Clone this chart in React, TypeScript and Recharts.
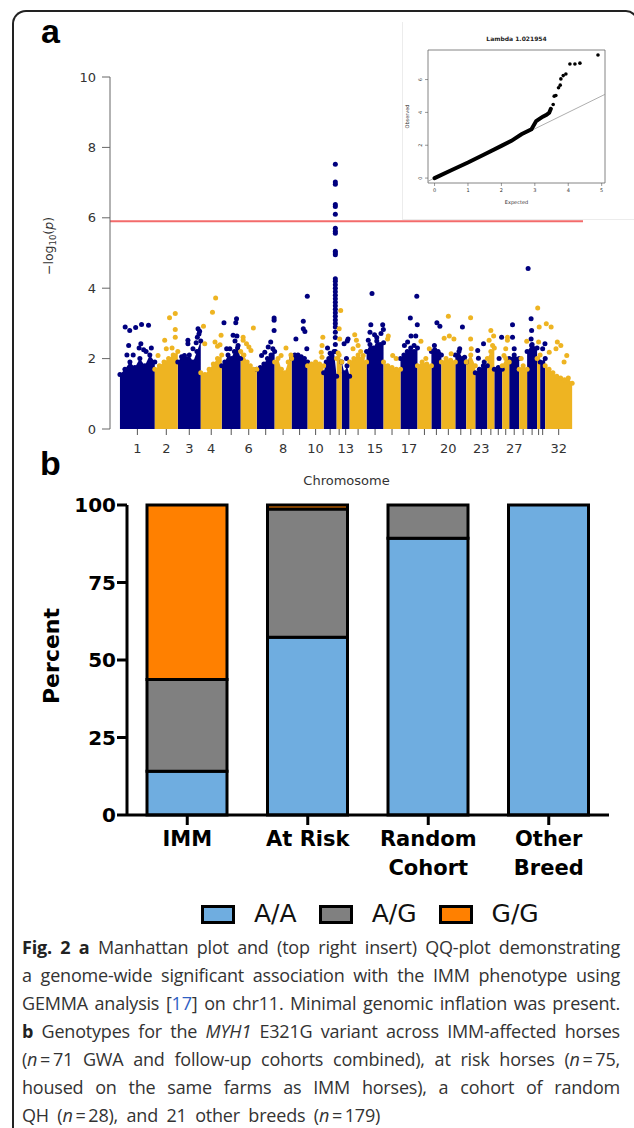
import React from 'react';
import {
  ComposedChart,
  Area,
  Scatter,
  Line,
  XAxis,
  YAxis,
  ReferenceLine,
  ReferenceArea,
  BarChart,
  Bar,
} from 'recharts';

// ---------- panel a: Manhattan plot ----------
const CHROMOSOMES = [
  '1', '2', '3', '4', '5', '6', '7', '8', '9', '10', '11', '12', '13', '14', '15', '16',
  '17', '18', '19', '20', '21', '22', '23', '24', '25', '26', '27', '28', '29', '30', '31', '32',
];
const CHROM_LENGTH_MB = [
  185, 122, 122, 111, 101, 85, 95, 90, 85, 85, 69, 27, 42, 90, 90, 90,
  90, 74, 53, 74, 58, 48, 64, 37, 42, 37, 53, 42, 53, 16, 27, 143,
];
const LABELED_CHROMOSOMES = ['1', '2', '3', '4', '6', '8', '10', '13', '15', '17', '20', '23', '27', '32'];

// top of the dense cloud, sampled evenly along each chromosome
const ENVELOPE = [
  [1.55, 1.7, 1.9, 1.75, 2.0, 1.8, 2.1, 1.9],
  [1.7, 1.8, 1.9, 2.0, 2.1, 2.2],
  [1.9, 2.05, 2.0, 2.1, 1.9, 2.2, 2.5],
  [1.6, 1.55, 1.7, 1.85, 2.0, 2.1],
  [1.8, 1.9, 2.1, 2.0, 2.2, 2.3, 2.0],
  [2.2, 2.1, 1.9, 1.8, 1.7, 1.7],
  [1.7, 1.75, 1.85, 2.0, 2.1, 2.2],
  [1.9, 2.0, 1.7, 1.6, 1.9, 2.0],
  [2.0, 2.1, 2.1, 2.05, 2.0, 1.9],
  [1.8, 1.85, 1.9, 1.85, 1.8],
  [1.6, 1.9, 2.0, 2.1, 2.2, 1.5],
  [2.0, 2.1, 1.9],
  [1.9, 1.6, 1.8, 1.5],
  [1.9, 2.0, 2.1, 2.0, 1.9],
  [2.2, 2.4, 2.3, 2.5, 2.4, 2.45],
  [1.9, 1.8, 1.75, 1.7, 1.7],
  [2.0, 2.1, 2.2, 2.3, 2.2, 2.3],
  [1.8, 1.9, 1.85, 1.8],
  [2.2, 2.25, 2.2, 2.1],
  [1.9, 2.0, 1.95, 1.9],
  [2.1, 2.2, 2.0, 1.9],
  [1.9, 2.1, 1.8],
  [1.6, 1.7, 1.8, 1.8],
  [2.0, 2.2, 2.3],
  [1.7, 1.75, 1.7],
  [1.8, 2.0, 1.9],
  [2.0, 2.1, 2.0],
  [1.7, 1.8, 1.7],
  [2.2, 2.4, 2.3],
  [2.0, 2.1],
  [1.9, 2.0],
  [1.8, 1.7, 1.6, 1.5, 1.45, 1.4, 1.45, 1.3],
];

// individual SNPs above the cloud: [fraction along chromosome, -log10(p)]
const HITS: number[][][] = [
  [[0.15, 2.9], [0.28, 2.8], [0.45, 2.88], [0.62, 2.97], [0.82, 2.95], [0.25, 2.37], [0.38, 2.1], [0.6, 2.42], [0.68, 2.25], [0.9, 2.3], [0.2, 2.1], [0.75, 2.2], [0.55, 2.3]],
  [[0.64, 3.16], [0.89, 3.28], [0.89, 2.83], [0.89, 2.61], [0.43, 2.52], [0.5, 2.28], [0.14, 2.09], [0.75, 2.3]],
  [[0.44, 2.52], [0.44, 2.42], [0.66, 2.28], [0.29, 2.09], [0.88, 2.85], [0.95, 2.78], [0.85, 2.61], [0.92, 2.7], [0.8, 2.45]],
  [[0.71, 3.72], [0.56, 3.32], [0.13, 2.92], [0.97, 2.66], [0.68, 2.47], [0.92, 2.39], [0.19, 2.42], [0.8, 2.35]],
  [[0.12, 3.02], [0.78, 3.13], [0.74, 3.02], [0.6, 2.66], [0.8, 2.64], [0.86, 2.37], [0.26, 2.28], [0.43, 2.28], [0.7, 2.5]],
  [[0.79, 2.87], [0.15, 2.61], [0.15, 2.52], [0.51, 2.33], [0.64, 2.23], [0.36, 2.42]],
  [[0.97, 3.15], [0.97, 3.09], [0.97, 2.8], [0.78, 2.47], [0.64, 2.33], [0.9, 2.28], [0.45, 2.18], [0.27, 2.09]],
  [[0.67, 2.3], [0.38, 2.09], [0.96, 2.1]],
  [[0.73, 3.06], [0.73, 2.85], [0.83, 2.77], [0.27, 2.56], [0.98, 3.77], [0.95, 2.28]],
  [[0.95, 2.61], [0.9, 2.37], [0.85, 2.18], [0.9, 2.04]],
  [[0.3, 2.3], [0.5, 2.15], [0.9, 2.2], [0.9, 2.4], [0.9, 2.6], [0.9, 2.75], [0.9, 2.9], [0.9, 3.0], [0.9, 3.1], [0.9, 3.2], [0.9, 3.3], [0.9, 3.4], [0.9, 3.5], [0.9, 3.6], [0.9, 3.7], [0.9, 3.8], [0.9, 3.9], [0.9, 4.0], [0.9, 4.1], [0.9, 4.2], [0.9, 4.27], [0.9, 4.95], [0.9, 5.0], [0.9, 5.05], [0.9, 5.56], [0.9, 5.62], [0.9, 5.7], [0.9, 6.1], [0.9, 6.32], [0.9, 6.38], [0.9, 6.95], [0.9, 7.02], [0.9, 7.52]],
  [[0.8, 3.37], [0.5, 2.85], [0.6, 2.56], [0.3, 2.16]],
  [[0.8, 2.56], [0.3, 2.42], [0.6, 2.0], [0.7, 2.5]],
  [[0.3, 2.68], [0.5, 2.37], [0.8, 2.09], [0.2, 2.28], [0.4, 2.52], [0.65, 2.2]],
  [[0.32, 3.85], [0.25, 2.96], [0.95, 2.96], [0.99, 2.83], [0.47, 2.68], [0.1, 2.52], [0.85, 2.71], [0.6, 2.6], [0.2, 2.75]],
  [[0.24, 2.56], [0.28, 2.64], [0.54, 2.09], [0.74, 2.0]],
  [[0.58, 3.15], [0.96, 3.77], [0.99, 2.96], [0.9, 2.64], [0.62, 2.64], [0.23, 2.37], [0.42, 2.47], [0.8, 2.37]],
  [[0.25, 2.49], [0.85, 2.28], [0.6, 2.0]],
  [[0.55, 3.02], [0.85, 2.92], [0.3, 2.37], [0.75, 2.14]],
  [[0.5, 3.2], [0.2, 2.58], [0.57, 2.64], [0.9, 2.56], [0.7, 2.14]],
  [[0.65, 2.9], [0.4, 2.28], [0.85, 2.04]],
  [[0.48, 3.16], [0.48, 2.56], [0.55, 2.28]],
  [[0.68, 2.42], [0.2, 2.23], [0.26, 2.01], [0.74, 1.9]],
  [[0.5, 2.8], [0.9, 2.64], [0.25, 2.52], [0.75, 2.37]],
  [[0.92, 2.61], [0.6, 2.0]],
  [[0.75, 2.61], [0.75, 2.52], [0.5, 2.28], [0.25, 2.09]],
  [[0.33, 2.96], [0.33, 2.61], [0.5, 2.28]],
  [[0.95, 2.49], [0.25, 2.0]],
  [[0.1, 4.56], [0.4, 3.13], [0.45, 2.8], [0.4, 2.56], [0.45, 2.37], [0.5, 2.25]],
  [[0.2, 3.44], [0.7, 2.9], [0.5, 2.47]],
  [[0.95, 2.42], [0.5, 2.28]],
  [[0.04, 2.99], [0.22, 2.9], [0.45, 2.47], [0.58, 2.37], [0.7, 1.9], [0.8, 2.09], [0.4, 2.28], [0.15, 2.18]],
];
const SIGNIFICANCE = 5.9;

// ---------- QQ inset ----------
const QQ_LAMBDA = '1.021954';
const QQ_CURVE_EXPECTED = [0, 0.5, 1.0, 1.5, 2.0, 2.3, 2.6, 2.9, 3.04, 3.15, 3.24, 3.35, 3.43, 3.48];
const QQ_CURVE_OBSERVED = [0, 0.48, 0.95, 1.45, 1.96, 2.27, 2.67, 2.97, 3.47, 3.62, 3.74, 3.85, 3.98, 4.22];
const QQ_TOP_EXPECTED = [3.55, 3.58, 3.63, 3.71, 3.76, 3.78, 3.85, 3.93, 4.05, 4.2, 4.35, 4.89];
const QQ_TOP_OBSERVED = [4.48, 4.99, 5.03, 5.5, 5.66, 6.04, 6.24, 6.34, 6.95, 6.95, 7.0, 7.5];
const QQ_X_DOMAIN: [number, number] = [-0.196, 5.1];
const QQ_Y_DOMAIN: [number, number] = [-0.3, 7.8];

// ---------- panel b: genotype frequencies ----------
const GROUPS = ['IMM', 'At Risk', 'Random\nCohort', 'Other\nBreed'];
const GENOTYPES = ['A/A', 'A/G', 'G/G'];
const PCT_AA = [14.1, 57.3, 89.3, 100];
const PCT_AG = [29.6, 41.4, 10.7, 0];
const PCT_GG = [56.3, 1.3, 0, 0];
const GENOTYPE_COLORS = ['#6FADE0', '#808080', '#FF8000'];

const BLUE = '#00007F';
const GOLD = '#EEB422';

const starts: number[] = [];
let total = 0;
CHROM_LENGTH_MB.forEach((len) => {
  starts.push(total);
  total += len;
});
const centers = CHROM_LENGTH_MB.map((len, i) => starts[i] + len / 2);

const areaRows: any[] = [];
const blueDots: { x: number; y: number }[] = [];
const goldDots: { x: number; y: number }[] = [];
ENVELOPE.forEach((env, i) => {
  const key = i % 2 === 0 ? 'blue' : 'gold';
  const dots = i % 2 === 0 ? blueDots : goldDots;
  env.forEach((v, k) => {
    const x = starts[i] + (CHROM_LENGTH_MB[i] * k) / (env.length - 1);
    areaRows.push({ x, [key]: v });
    dots.push({ x, y: v });
  });
  HITS[i].forEach(([f, v]) => dots.push({ x: starts[i] + CHROM_LENGTH_MB[i] * f, y: v }));
});

const qqCurve = QQ_CURVE_EXPECTED.map((x, i) => ({ x, y: QQ_CURVE_OBSERVED[i] }));
const qqTop = QQ_TOP_EXPECTED.map((x, i) => ({ x, y: QQ_TOP_OBSERVED[i] }));

const barData = GROUPS.map((g, i) => ({ group: g, AA: PCT_AA[i], AG: PCT_AG[i], GG: PCT_GG[i] }));
const GENO_KEYS = ['AA', 'AG', 'GG'];

const dot = (color: string, r: number) => (p: any) => <circle cx={p.cx} cy={p.cy} r={r} fill={color} />;

const LogPLabel = (props: any) => {
  const vb = props.viewBox;
  const cy = vb ? vb.y + vb.height / 2 - 7 : 246;
  return (
    <text transform={`translate(53,${cy}) rotate(-90)`} textAnchor="middle" fontFamily="DejaVu Sans" fontSize={12.5} fill="#333">
      <tspan>−log</tspan>
      <tspan fontSize={8.5} dy={3}>10</tspan>
      <tspan dy={-3}>(</tspan>
      <tspan fontStyle="italic">p</tspan>
      <tspan>)</tspan>
    </text>
  );
};

const ChromLabel = (props: any) => {
  const vb = props.viewBox;
  const cx = vb ? vb.x + vb.width / 2 : 346;
  const y = vb ? vb.y + 56 : 485;
  return (
    <text x={cx} y={y} textAnchor="middle" fontFamily="DejaVu Sans" fontSize={13} fill="#333">
      Chromosome
    </text>
  );
};

function ManhattanPlot() {
  return (
    <div style={{ position: 'absolute', left: 0, top: 0 }}>
      <ComposedChart width={634} height={496} data={areaRows} margin={{ top: 77, right: 51, bottom: 37, left: 80 }}>
        <XAxis
          type="number"
          dataKey="x"
          domain={[-0.022 * total, 1.024 * total]}
          ticks={centers}
          interval={0}
          axisLine={false}
          tickLine={{ stroke: '#555' }}
          tickSize={6}
          tickMargin={9}
          height={30}
          tickFormatter={(v: number) => {
            const name = CHROMOSOMES[centers.indexOf(v)];
            return LABELED_CHROMOSOMES.includes(name) ? name : '';
          }}
          tick={{ fontSize: 13, fill: '#333', fontFamily: 'DejaVu Sans' }}
          label={{ content: (p: any) => <ChromLabel {...p} /> }}
        />
        <YAxis
          type="number"
          domain={[0, 10]}
          ticks={[0, 2, 4, 6, 8, 10]}
          width={30}
          axisLine={{ stroke: '#666' }}
          tickLine={{ stroke: '#666' }}
          tickSize={8}
          tickMargin={6}
          tick={{ fontSize: 13, fill: '#333', fontFamily: 'DejaVu Sans' }}
          label={{ content: (p: any) => <LogPLabel {...p} /> }}
        />
        <Area dataKey="blue" type="linear" stroke="none" fill={BLUE} fillOpacity={1} isAnimationActive={false} dot={false} activeDot={false} />
        <Area dataKey="gold" type="linear" stroke="none" fill={GOLD} fillOpacity={1} isAnimationActive={false} dot={false} activeDot={false} />
        <Scatter data={blueDots} dataKey="y" shape={dot(BLUE, 2.5)} isAnimationActive={false} />
        <Scatter data={goldDots} dataKey="y" shape={dot(GOLD, 2.5)} isAnimationActive={false} />
        <ReferenceLine y={SIGNIFICANCE} stroke="#F36B6B" strokeWidth={2} />
      </ComposedChart>
    </div>
  );
}

const QQYTick = ({ x, y, payload }: any) => (
  <text transform={`translate(${x},${y}) rotate(-90)`} textAnchor="middle" fontSize={5} fill="#333" fontFamily="DejaVu Sans">
    {payload.value}
  </text>
);

function QQInset() {
  return (
    <>
      <div
        style={{
          position: 'absolute', left: 402, top: 22, width: 232, height: 197, background: '#fff',
          borderLeft: '1px solid #ececec', borderBottom: '1px solid #ececec',
        }}
      />
      <div
        style={{
          position: 'absolute', left: 428, top: 35, width: 177, textAlign: 'center',
          fontFamily: 'DejaVu Sans', fontWeight: 'bold', fontSize: 6, color: '#222',
        }}
      >
        Lambda {QQ_LAMBDA}
      </div>
      <div style={{ position: 'absolute', left: 400, top: 25 }}>
        <ComposedChart width={222} height={195} margin={{ top: 25, right: 17, bottom: 12, left: 8 }}>
          <XAxis
            type="number"
            dataKey="x"
            domain={QQ_X_DOMAIN}
            ticks={[0, 1, 2, 3, 4, 5]}
            axisLine={false}
            tickLine={{ stroke: '#555', strokeWidth: 0.6 }}
            tickSize={3}
            tickMargin={2}
            height={25}
            tick={{ fontSize: 5, fill: '#333', fontFamily: 'DejaVu Sans' }}
            label={{ content: (p: any) => (
              <text x={p.viewBox ? p.viewBox.x + p.viewBox.width / 2 : 116} y={p.viewBox ? p.viewBox.y + 21 : 179} textAnchor="middle" fontSize={5} fill="#333" fontFamily="DejaVu Sans">Expected</text>
            ) }}
          />
          <YAxis
            type="number"
            dataKey="y"
            domain={QQ_Y_DOMAIN}
            ticks={[0, 2, 4, 6]}
            width={20}
            axisLine={false}
            tickLine={{ stroke: '#555', strokeWidth: 0.6 }}
            tickSize={3}
            tickMargin={3}
            tick={<QQYTick />}
            label={{ content: (p: any) => (
              <text transform={`translate(9,${p.viewBox ? p.viewBox.y + p.viewBox.height / 2 : 90}) rotate(-90)`} textAnchor="middle" fontSize={5} fill="#333" fontFamily="DejaVu Sans">Observed</text>
            ) }}
          />
          <ReferenceArea x1={QQ_X_DOMAIN[0]} x2={QQ_X_DOMAIN[1]} y1={QQ_Y_DOMAIN[0]} y2={QQ_Y_DOMAIN[1]} fill="none" stroke="#666" strokeWidth={0.8} />
          <ReferenceLine segment={[{ x: QQ_X_DOMAIN[0], y: QQ_X_DOMAIN[0] }, { x: QQ_X_DOMAIN[1], y: QQ_X_DOMAIN[1] }]} stroke="#999" strokeWidth={0.8} />
          <Line data={qqCurve} dataKey="y" type="linear" stroke="#000" strokeWidth={4} strokeLinecap="round" dot={false} activeDot={false} isAnimationActive={false} />
          <Scatter data={qqTop} dataKey="y" shape={dot('#000', 1.8)} isAnimationActive={false} />
        </ComposedChart>
      </div>
    </>
  );
}

const GroupTick = ({ x, y, payload }: any) => {
  const lines = String(payload.value).split('\n');
  return (
    <text x={x} y={y} textAnchor="middle" fontFamily="DejaVu Sans" fontWeight="bold" fontSize={21} fill="#000">
      {lines.map((l, i) => (
        <tspan key={i} x={x} dy={i === 0 ? 19 : 29}>
          {l}
        </tspan>
      ))}
    </text>
  );
};

const PercentLabel = (props: any) => {
  const vb = props.viewBox;
  const cy = vb ? vb.y + vb.height / 2 - 4 : 176;
  return (
    <text transform={`translate(59,${cy}) rotate(-90)`} textAnchor="middle" fontFamily="DejaVu Sans" fontWeight="bold" fontSize={22} fill="#000">
      Percent
    </text>
  );
};

function GenotypeBars() {
  return (
    <div style={{ position: 'absolute', left: 0, top: 480 }}>
      <BarChart width={634} height={420} data={barData} margin={{ top: 25, right: 25, bottom: 5, left: 37 }} barSize={80}>
        <XAxis
          dataKey="group"
          axisLine={{ stroke: '#000', strokeWidth: 3 }}
          tickLine={{ stroke: '#000', strokeWidth: 3 }}
          tickSize={10}
          tickMargin={2}
          height={80}
          interval={0}
          tick={<GroupTick />}
        />
        <YAxis
          domain={[0, 100]}
          ticks={[0, 25, 50, 75, 100]}
          width={90}
          axisLine={{ stroke: '#000', strokeWidth: 3 }}
          tickLine={{ stroke: '#000', strokeWidth: 3 }}
          tickSize={10}
          tickMargin={1}
          tick={{ fontSize: 20, fontWeight: 'bold', fill: '#000', fontFamily: 'DejaVu Sans' }}
          label={{ content: (p: any) => <PercentLabel {...p} /> }}
        />
        {GENO_KEYS.map((k, i) => (
          <Bar key={k} dataKey={k} name={GENOTYPES[i]} stackId="g" fill={GENOTYPE_COLORS[i]} stroke="#000" strokeWidth={3} isAnimationActive={false} />
        ))}
      </BarChart>
    </div>
  );
}

function GenotypeLegend() {
  return (
    <div
      style={{
        position: 'absolute', top: 899, left: 201, display: 'flex', alignItems: 'center',
        fontFamily: 'DejaVu Sans', fontSize: 25, lineHeight: '30px', color: '#111',
      }}
    >
      {GENOTYPES.map((g, i) => (
        <div key={g} style={{ display: 'flex', alignItems: 'center', marginRight: 22 }}>
          <span
            style={{
              display: 'inline-block', width: 34, height: 19, background: GENOTYPE_COLORS[i],
              border: '3px solid #000', boxSizing: 'border-box', marginRight: 19,
            }}
          />
          <span>{g}</span>
        </div>
      ))}
    </div>
  );
}

const just: React.CSSProperties = { textAlign: 'justify', textAlignLast: 'justify' };
const eq = '\u2009=\u2009';

function Caption() {
  return (
    <div
      style={{
        position: 'absolute', left: 22, top: 933, width: 598, fontFamily: '"Open Sans", sans-serif',
        fontSize: 18, letterSpacing: '-0.2px', lineHeight: '28px', color: '#333',
      }}
    >
      <div style={just}><b style={{ color: '#222' }}>Fig. 2 a</b> Manhattan plot and (top right insert) QQ-plot demonstrating</div>
      <div style={just}>a genome-wide significant association with the IMM phenotype using</div>
      <div style={just}>GEMMA analysis [<span style={{ color: '#2F5FC4' }}>17</span>] on chr11. Minimal genomic inflation was present.</div>
      <div style={just}><b style={{ color: '#222' }}>b</b> Genotypes for the <i>MYH1</i> E321G variant across IMM-affected horses</div>
      <div style={just}>(<i>n</i>{eq}71 GWA and follow-up cohorts combined), at risk horses (<i>n</i>{eq}75,</div>
      <div style={just}>housed on the same farms as IMM horses), a cohort of random</div>
      <div style={{ wordSpacing: 4 }}>QH (<i>n</i>{eq}28), and 21 other breeds (<i>n</i>{eq}179)</div>
    </div>
  );
}

export default function App() {
  return (
    <div style={{ position: 'absolute', left: 0, top: 0, width: 634, height: 1128, overflow: 'hidden', background: '#fff' }}>
      <div
        style={{
          position: 'absolute', left: 12, top: 10, width: 626, height: 1140, boxSizing: 'border-box',
          borderLeft: '2px solid #222', borderTop: '2px solid #222', borderRight: '2px solid #222',
          borderTopLeftRadius: 14, borderTopRightRadius: 12,
        }}
      />
      <ManhattanPlot />
      <QQInset />
      <GenotypeBars />
      <GenotypeLegend />
      <Caption />
      <svg width={634} height={1128} style={{ position: 'absolute', left: 0, top: 0, pointerEvents: 'none' }}>
        <text x={41} y={43} fontFamily="Liberation Sans" fontWeight="bold" fontSize={34} fill="#000">a</text>
        <text x={40} y={475} fontFamily="Liberation Sans" fontWeight="bold" fontSize={34} fill="#000">b</text>
      </svg>
    </div>
  );
}
